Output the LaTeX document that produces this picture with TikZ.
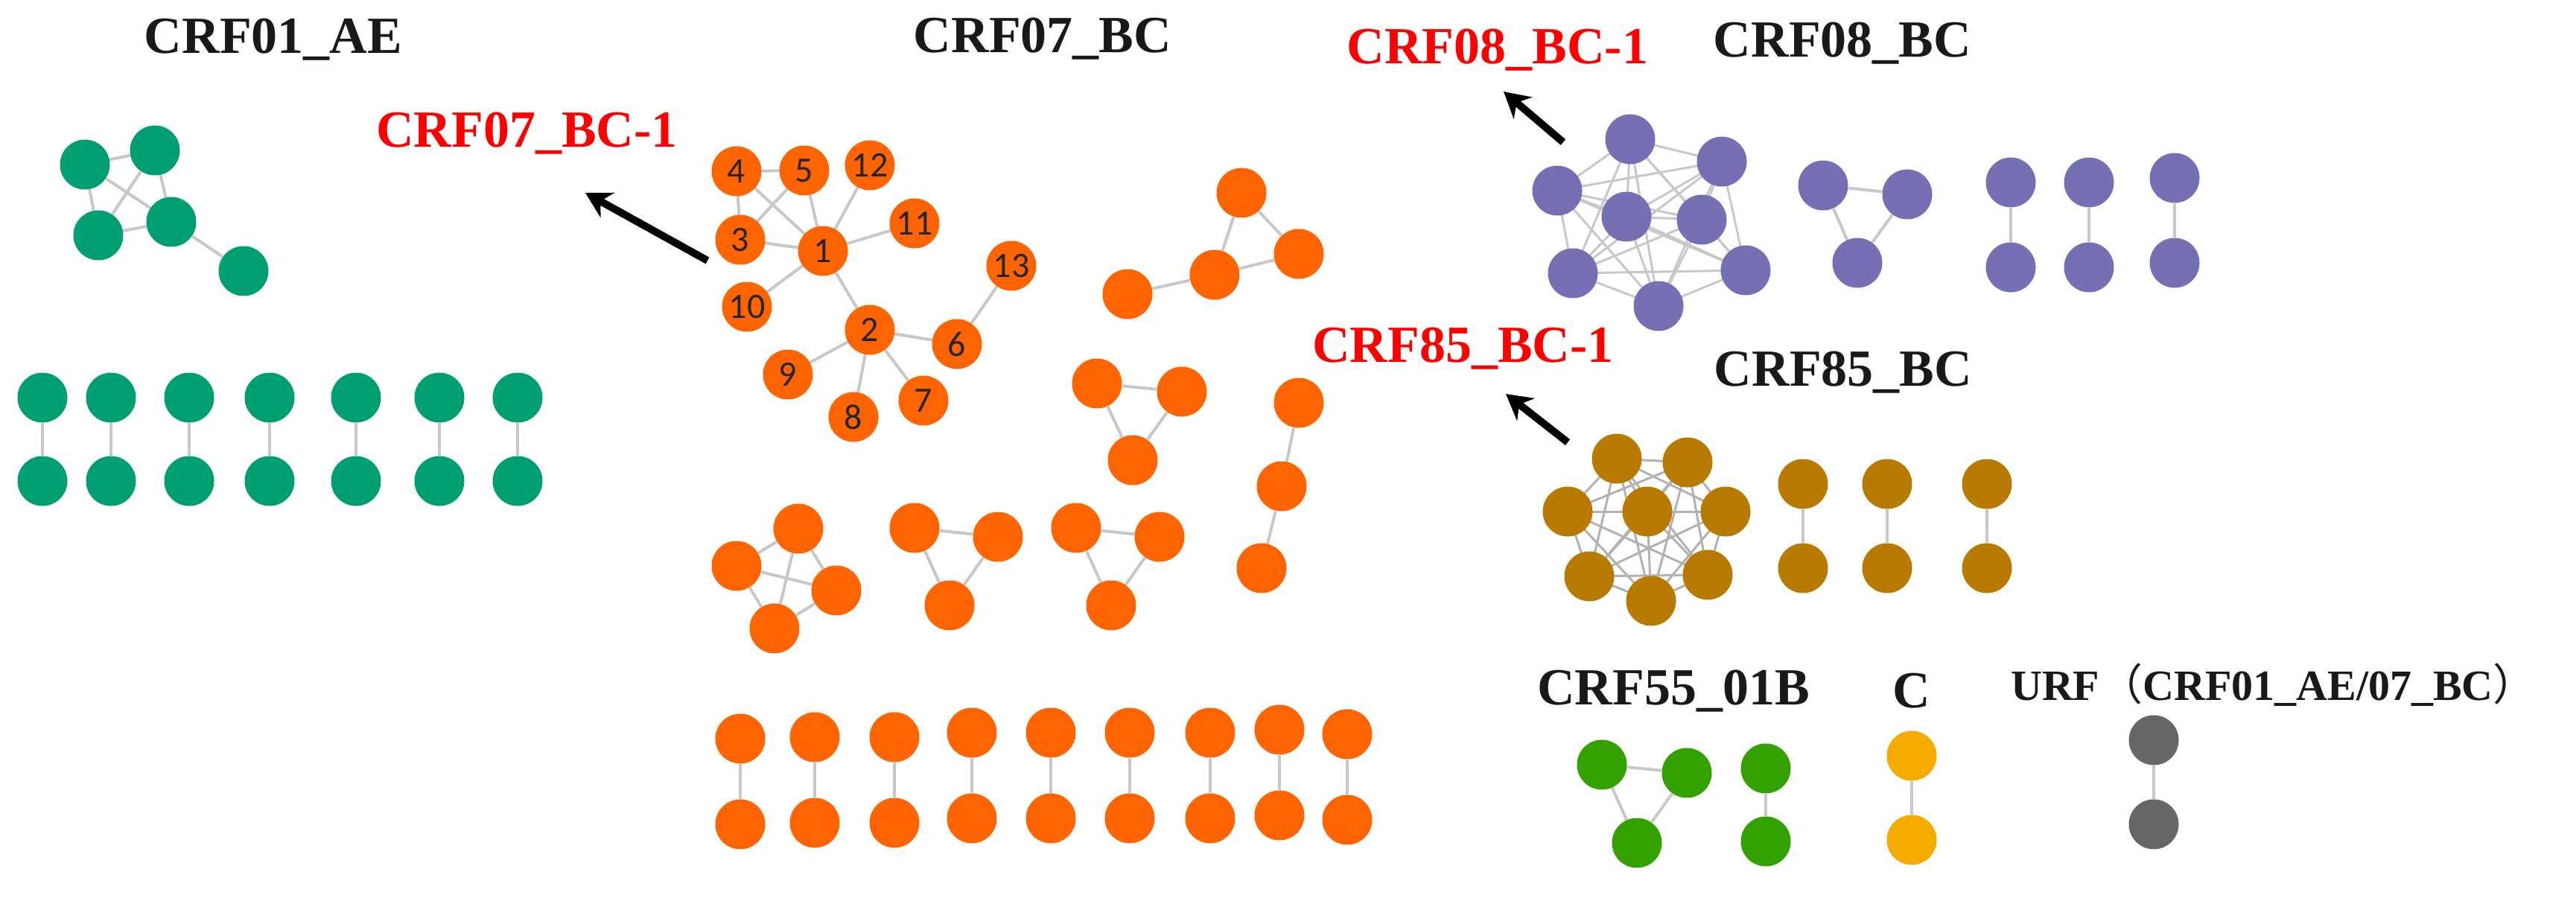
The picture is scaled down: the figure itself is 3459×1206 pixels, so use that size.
\documentclass[tikz,border=0pt]{standalone}
\usepackage{fontspec}
\setmainfont{Liberation Serif}
\newfontfamily\numfont{Carlito}
\newfontfamily\cjkf{Noto Sans CJK SC}
\usetikzlibrary{arrows.meta}
\definecolor{cgreen}{RGB}{0,158,115}
\definecolor{corange}{RGB}{255,100,0}
\definecolor{cpurple}{RGB}{117,112,179}
\definecolor{cbrown}{RGB}{184,122,0}
\definecolor{cgreenb}{RGB}{51,162,0}
\definecolor{cyellow}{RGB}{247,171,0}
\definecolor{cgray}{RGB}{102,102,102}
\definecolor{cedge}{RGB}{200,200,200}
\begin{document}
\begin{tikzpicture}[x=1pt,y=-1pt,
  nd/.style={circle,inner sep=0pt,minimum size=67pt,fill=#1},
  num/.style={nd=corange,font=\numfont\fontsize{48}{48}\selectfont,text=black!85},
  ed/.style={draw=cedge,line width=4pt},
  ttl/.style={font=\bfseries\fontsize{70}{70}\selectfont,text=black!90,inner sep=0pt},
  rttl/.style={font=\bfseries\fontsize{70}{70}\selectfont,text=red,inner sep=0pt},
  arr/.style={line width=10pt,-{Stealth[length=34pt,width=38pt]}}]
\useasboundingbox (0,0) rectangle (3459,1206);
% titles
\node[ttl] (t01) at (367,53) {CRF01\_AE};
\node[ttl] (t07) at (1400,52) {CRF07\_BC};
\node[ttl] (t08) at (2474,58) {CRF08\_BC};
\node[ttl] (t85) at (2475,500) {CRF85\_BC};
\node[ttl] (t55) at (2247,928) {CRF55\_01B};
\node[ttl] (tc) at (2567,928) {C};
\node[ttl,font=\bfseries\fontsize{58}{58}\selectfont] (turf) at (3053,920) {URF{\cjkf\mdseries （}CRF01\_AE/07\_BC{\cjkf\mdseries ）}};
\node[rttl,anchor=west] (r07) at (505,179) {CRF07\_BC-1};
\node[rttl] (r08) at (2011,67) {CRF08\_BC-1};
\node[rttl,anchor=west] (r85) at (1762,468) {CRF85\_BC-1};
% CRF01_AE
\node[nd=cgreen] (g1) at (114,221) {};
\node[nd=cgreen] (g2) at (208,202) {};
\node[nd=cgreen] (g3) at (132,316) {};
\node[nd=cgreen] (g4) at (230,298) {};
\node[nd=cgreen] (g5) at (327,364) {};
\foreach \a/\b in {g1/g2,g1/g3,g1/g4,g2/g3,g2/g4,g3/g4,g4/g5}{\draw[ed] (\a) -- (\b);}
\foreach \x [count=\i] in {57,149,254,362,478,590,695}{
  \node[nd=cgreen] (ga\i) at (\x,534) {};
  \node[nd=cgreen] (gb\i) at (\x,646) {};
  \draw[ed] (ga\i) -- (gb\i);}
% CRF07_BC big cluster
\foreach \n/\x/\y in {4/989/230,5/1080/229,12/1168/222,11/1228/300,3/994/322,1/1105/337,13/1358/357,10/1003/412,2/1168/443,6/1285/462,9/1058/503,7/1240/538,8/1146/560}{
  \coordinate (c\n) at (\x,\y);}
\foreach \a/\b in {4/5,4/3,4/1,5/3,5/1,3/1,12/1,11/1,10/1,1/2,2/6,6/13,2/9,2/8,2/7}{\draw[ed] (c\a) -- (c\b);}
\foreach \n in {1,...,13}{\node[num] (o\n) at (c\n) {\n};}
% other orange groups
\node[nd=corange] (a1) at (1667,259) {};
\node[nd=corange] (a2) at (1744,341) {};
\node[nd=corange] (a3) at (1631,369) {};
\node[nd=corange] (a4) at (1514,395) {};
\foreach \a/\b in {a1/a2,a1/a3,a2/a3,a3/a4}{\draw[ed] (\a) -- (\b);}
\node[nd=corange] (b1) at (1473,515) {};
\node[nd=corange] (b2) at (1587,526) {};
\node[nd=corange] (b3) at (1521,618) {};
\foreach \a/\b in {b1/b2,b1/b3,b2/b3}{\draw[ed] (\a) -- (\b);}
\node[nd=corange] (h1) at (1744,541) {};
\node[nd=corange] (h2) at (1721,653) {};
\node[nd=corange] (h3) at (1694,763) {};
\draw[ed] (h1) -- (h2); \draw[ed] (h2) -- (h3);
\node[nd=corange] (q1) at (1072,710) {};
\node[nd=corange] (q2) at (989,760) {};
\node[nd=corange] (q3) at (1123,793) {};
\node[nd=corange] (q4) at (1040,844) {};
\foreach \a/\b in {q1/q2,q1/q3,q1/q4,q2/q3,q2/q4,q3/q4}{\draw[ed] (\a) -- (\b);}
\node[nd=corange] (d1) at (1228,709) {};
\node[nd=corange] (d2) at (1340,721) {};
\node[nd=corange] (d3) at (1275,813) {};
\foreach \a/\b in {d1/d2,d1/d3,d2/d3}{\draw[ed] (\a) -- (\b);}
\node[nd=corange] (e1) at (1445,709) {};
\node[nd=corange] (e2) at (1557,721) {};
\node[nd=corange] (e3) at (1492,813) {};
\foreach \a/\b in {e1/e2,e1/e3,e2/e3}{\draw[ed] (\a) -- (\b);}
\foreach \x/\yt/\yb [count=\i] in {994/992/1107,1094/990/1105,1201/990/1105,1305/984/1099,1411/984/1099,1517/984/1099,1625/984/1099,1718/980/1095,1809/986/1101}{
  \node[nd=corange] (pa\i) at (\x,\yt) {};
  \node[nd=corange] (pb\i) at (\x,\yb) {};
  \draw[ed] (pa\i) -- (pb\i);}
% CRF08_BC
\foreach \n/\x/\y in {1/2189/187,2/2312/217,3/2091/256,4/2184/291,5/2285/295,6/2112/367,7/2344/363,8/2227/411}{\coordinate (u\n) at (\x,\y);}
\foreach \i in {1,...,8}{\foreach \j in {1,...,8}{\ifnum\i<\j \draw[ed,line width=3pt] (u\i) -- (u\j);\fi}}
\foreach \n in {1,...,8}{\node[nd=cpurple] (v\n) at (u\n) {};}
\node[nd=cpurple] (w1) at (2448,249) {};
\node[nd=cpurple] (w2) at (2561,261) {};
\node[nd=cpurple] (w3) at (2494,353) {};
\foreach \a/\b in {w1/w2,w1/w3,w2/w3}{\draw[ed] (\a) -- (\b);}
\foreach \x/\yt/\yb [count=\i] in {2700/245/359,2805/245/359,2920/239/353}{
  \node[nd=cpurple] (va\i) at (\x,\yt) {};
  \node[nd=cpurple] (vb\i) at (\x,\yb) {};
  \draw[ed] (va\i) -- (vb\i);}
% CRF85_BC
\foreach \n/\x/\y in {1/2171/616,2/2266/621,3/2105/687,4/2212/687,5/2317/687,6/2134/774,7/2293/772,8/2217/807}{\coordinate (k\n) at (\x,\y);}
\foreach \i in {1,...,8}{\foreach \j in {1,...,8}{\ifnum\i<\j \draw[ed,line width=3pt,draw=black!30] (k\i) -- (k\j);\fi}}
\foreach \n in {1,...,8}{\node[nd=cbrown] (m\n) at (k\n) {};}
\foreach \x [count=\i] in {2421,2534,2668}{
  \node[nd=cbrown] (ma\i) at (\x,650) {};
  \node[nd=cbrown] (mb\i) at (\x,763) {};
  \draw[ed] (ma\i) -- (mb\i);}
% CRF55_01B, C, URF
\node[nd=cgreenb] (s1) at (2151,1027) {};
\node[nd=cgreenb] (s2) at (2265,1038) {};
\node[nd=cgreenb] (s3) at (2198,1132) {};
\foreach \a/\b in {s1/s2,s1/s3,s2/s3}{\draw[ed] (\a) -- (\b);}
\node[nd=cgreenb] (s4) at (2371,1032) {};
\node[nd=cgreenb] (s5) at (2371,1130) {};
\draw[ed] (s4) -- (s5);
\node[nd=cyellow] (y1) at (2567,1015) {};
\node[nd=cyellow] (y2) at (2567,1128) {};
\draw[ed] (y1) -- (y2);
\node[nd=cgray] (x1) at (2892,994) {};
\node[nd=cgray] (x2) at (2892,1107) {};
\draw[ed] (x1) -- (x2);
% arrows
\coordinate (s07) at (950,350); \coordinate (e07) at (786,259);
\coordinate (s08) at (2099,191); \coordinate (e08) at (2019,123);
\coordinate (s85) at (2105,594); \coordinate (e85) at (2022,529);
\draw[arr] (s07) -- (e07);
\draw[arr] (s08) -- (e08);
\draw[arr] (s85) -- (e85);
\end{tikzpicture}
\end{document}
